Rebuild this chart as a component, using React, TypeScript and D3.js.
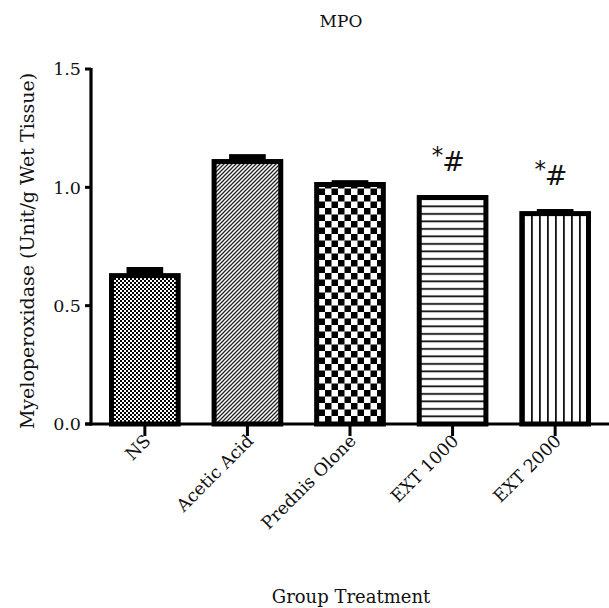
import React from 'react';
import * as d3 from 'd3';

// values
const groups = ['NS', 'Acetic Acid', 'Prednis Olone', 'EXT1000', 'EXT2000'];
const labels = ['NS', 'Acetic Acid', 'Prednis Olone', 'EXT 1000', 'EXT 2000'];
const means = [0.627, 1.109, 1.012, 0.957, 0.889];
const errors = [0.03, 0.025, 0.012, 0.004, 0.013];
const fills = ['fineCheck', 'diag', 'bigCheck', 'hLines', 'vLines'];
const marked = ['EXT1000', 'EXT2000'];
const yTicks = [0, 0.5, 1.0, 1.5];

const W = 609;
const H = 608;
const serif = '"DejaVu Serif", serif';

export default function App() {
  const x = d3.scaleBand().domain(groups).range([91, 609]).paddingInner(0.35).paddingOuter(0.2);
  const y = d3.scaleLinear().domain([0, 1.5]).range([424, 69]);
  const bw = x.bandwidth();
  const capW = bw * 0.55;

  return (
    <svg width={W} height={H} style={{ position: 'absolute', left: 0, top: 0, background: '#fff' }}>
      <defs>
        <pattern id="fineCheck" width="4" height="4" patternUnits="userSpaceOnUse">
          <rect width="4" height="4" fill="#fff" />
          <rect width="2" height="2" fill="#000" />
          <rect x="2" y="2" width="2" height="2" fill="#000" />
        </pattern>
        <pattern id="diag" width="4" height="4" patternUnits="userSpaceOnUse">
          <rect width="4" height="4" fill="#fff" />
          <path d="M-1,1 l2,-2 M0,4 l4,-4 M3,5 l2,-2" stroke="#222" strokeWidth="1.3" />
        </pattern>
        <pattern id="bigCheck" width="13" height="13" patternUnits="userSpaceOnUse">
          <rect width="13" height="13" fill="#fff" />
          <rect width="6.5" height="6.5" fill="#000" />
          <rect x="6.5" y="6.5" width="6.5" height="6.5" fill="#000" />
        </pattern>
        <pattern id="hLines" width="8" height="7.5" patternUnits="userSpaceOnUse">
          <rect width="8" height="7.5" fill="#fff" />
          <rect y="3" width="8" height="1.8" fill="#111" />
        </pattern>
        <pattern id="vLines" width="8" height="8" patternUnits="userSpaceOnUse">
          <rect width="8" height="8" fill="#fff" />
          <rect x="3" width="1.8" height="8" fill="#111" />
        </pattern>
      </defs>

      <text x={341} y={27} textAnchor="middle" fontFamily={serif} fontSize={17} fill="#111">MPO</text>

      {/* bars */}
      {groups.map((g, i) => {
        const x0 = x(g)!;
        const cx = x0 + bw / 2;
        return (
          <g key={g}>
            <rect
              x={cx - capW / 2}
              y={y(means[i] + errors[i]) - 1.5}
              width={capW}
              height={y(means[i]) - y(means[i] + errors[i]) + 1.5}
              fill="#000"
            />
            <rect
              x={x0}
              y={y(means[i])}
              width={bw}
              height={y(0) - y(means[i])}
              fill={`url(#${fills[i]})`}
              stroke="#000"
              strokeWidth={5}
            />
          </g>
        );
      })}

      {/* significance marks */}
      {marked.map((g) => {
        const i = groups.indexOf(g);
        const cx = x(g)! + bw / 2;
        const base = y(means[i] + errors[i]) - 26;
        return (
          <g key={g} fontFamily='"DejaVu Sans", sans-serif' fill="#111">
            <text x={cx - 15} y={base - 8} textAnchor="middle" fontSize={23}>*</text>
            <text x={cx + 1} y={base} textAnchor="middle" fontSize={27}>#</text>
          </g>
        );
      })}

      {/* y axis */}
      <line x1={91} x2={91} y1={y(1.5) - 1} y2={y(0) + 1.5} stroke="#000" strokeWidth={3.2} />
      {yTicks.map((t) => (
        <g key={t}>
          <line x1={85} x2={91} y1={y(t)} y2={y(t)} stroke="#000" strokeWidth={3} />
          <text x={81} y={y(t)} dy="0.36em" textAnchor="end" fontFamily={serif} fontSize={17.5} fill="#111">
            {d3.format('.1f')(t)}
          </text>
        </g>
      ))}
      <text
        transform={`translate(34,251) rotate(-90)`}
        textAnchor="middle"
        fontFamily={serif}
        fontSize={19}
        fill="#111"
      >
        Myeloperoxidase (Unit/g Wet Tissue)
      </text>

      {/* x axis */}
      <line x1={85} x2={609} y1={y(0)} y2={y(0)} stroke="#000" strokeWidth={3.2} />
      {groups.map((g, i) => {
        const cx = x(g)! + bw / 2;
        return (
          <g key={g}>
            <line x1={cx} x2={cx} y1={y(0)} y2={y(0) + 12} stroke="#000" strokeWidth={3} />
            <text
              transform={`translate(${cx + 7},${y(0) + 18}) rotate(-45)`}
              textAnchor="end"
              fontFamily={serif}
              fontSize={17.5}
              fill="#111"
            >
              {labels[i]}
            </text>
          </g>
        );
      })}
      <text x={351} y={603} textAnchor="middle" fontFamily={serif} fontSize={18} fill="#111">Group Treatment</text>
    </svg>
  );
}
